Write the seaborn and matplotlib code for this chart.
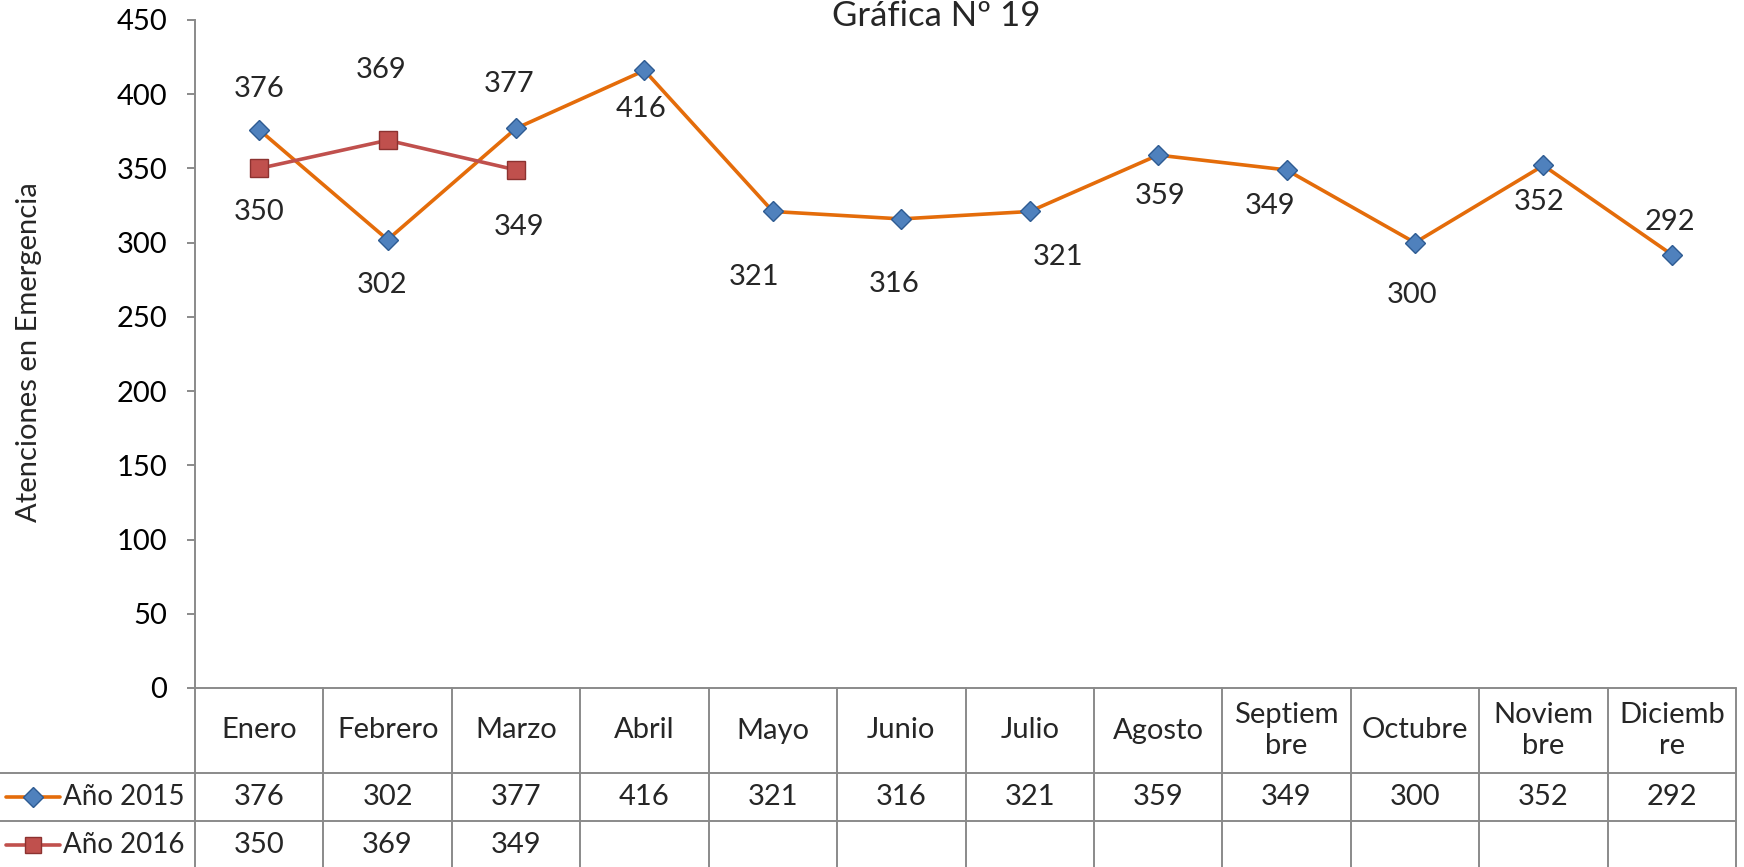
import numpy as np
import pandas as pd
import seaborn as sns
import matplotlib.pyplot as plt
from matplotlib.lines import Line2D
from matplotlib.transforms import blended_transform_factory

# Datos
meses = ["Enero", "Febrero", "Marzo", "Abril", "Mayo", "Junio", "Julio",
         "Agosto", "Septiembre", "Octubre", "Noviembre", "Diciembre"]
etiquetas_tabla = ["Enero", "Febrero", "Marzo", "Abril", "Mayo", "Junio", "Julio",
                   "Agosto", "Septiem\nbre", "Octubre", "Noviem\nbre", "Diciemb\nre"]
anio_2015 = [376, 302, 377, 416, 321, 316, 321, 359, 349, 300, 352, 292]
anio_2016 = [350, 369, 349]
series = ["Año 2015", "Año 2016"]
y_ticks = [0, 50, 100, 150, 200, 250, 300, 350, 400, 450]
titulo = "Gráfica Nº 19"
y_label = "Atenciones en Emergencia"

# posicion manual de las etiquetas (pixeles respecto al punto)
off_2015 = [(0, 41), (-6, -45), (-7, 44), (-3, -39), (-19, -66), (-7, -65),
            (28, -46), (2, -41), (-16, -36), (-3, -52), (-4, -37), (-2, 33)]
off_2016 = [(0, -44), (-6, 70), (3, -57)]

NARANJA = "#E46C0A"
AZUL, AZUL_OSC = "#4F81BD", "#2E5B92"
ROJO, ROJO_OSC = "#C0504D", "#8C3230"
GRIS = "#8a8a8a"
FS = 21

W, H = 1744, 867
sns.set_theme(style="white")
plt.rcParams["font.family"] = ["Lato", "DejaVu Sans"]

fig = plt.figure(figsize=(W / 100, H / 100), dpi=100)
x0, x1, ytop, ybot = 195, 1736, 20, 688
ax = fig.add_axes([x0 / W, 1 - ybot / H, (x1 - x0) / W, (ybot - ytop) / H])

df15 = pd.DataFrame({"mes": np.arange(len(anio_2015)), "valor": anio_2015})
df16 = pd.DataFrame({"mes": np.arange(len(anio_2016)), "valor": anio_2016})

sns.lineplot(data=df15, x="mes", y="valor", ax=ax, color=NARANJA, linewidth=2.6,
             marker="D", markersize=10.5, markerfacecolor=AZUL,
             markeredgecolor=AZUL_OSC, markeredgewidth=1, zorder=3)
sns.lineplot(data=df16, x="mes", y="valor", ax=ax, color=ROJO, linewidth=2.6,
             marker="s", markersize=12.5, markerfacecolor=ROJO,
             markeredgecolor=ROJO_OSC, markeredgewidth=1, zorder=4)

for i, (v, (dx, dy)) in enumerate(zip(anio_2015, off_2015)):
    ax.annotate(str(v), (i, v), xytext=(dx, dy), textcoords="offset pixels",
                ha="center", va="center", fontsize=FS)
for i, (v, (dx, dy)) in enumerate(zip(anio_2016, off_2016)):
    ax.annotate(str(v), (i, v), xytext=(dx, dy), textcoords="offset pixels",
                ha="center", va="center", fontsize=FS)

ax.set_xlim(-0.5, len(meses) - 0.5)
ax.set_ylim(0, 450)
ax.set_yticks(y_ticks)
ax.set_xticks([])
ax.set_xlabel("")
ax.set_ylabel("")
for s in ["top", "right", "bottom"]:
    ax.spines[s].set_visible(False)
ax.spines["left"].set_color(GRIS)
ax.spines["left"].set_linewidth(1.4)
ax.tick_params(axis="y", left=True, direction="out", length=6, width=1.4,
               color=GRIS, pad=14, labelsize=FS, labelcolor="black")

fig.text(936 / W, 1 - 26 / H, titulo, ha="center", va="baseline", fontsize=25)
fig.text(29 / W, 1 - 352 / H, y_label, rotation=90, ha="center", va="center",
         fontsize=FS)

# tabla de datos bajo el grafico
def fy(p):
    return 1 - p / H

tr = blended_transform_factory(ax.transData, fig.transFigure)
filas = [688, 773, 821, 869]
fig.add_artist(Line2D([x0 / W, x1 / W], [fy(filas[0])] * 2, transform=fig.transFigure,
                      color=GRIS, lw=1.4))
for yy in filas[1:3]:
    fig.add_artist(Line2D([0, x1 / W], [fy(yy)] * 2, transform=fig.transFigure,
                          color=GRIS, lw=1.4))
for b in np.arange(len(meses) + 1) - 0.5:
    fig.add_artist(Line2D([b, b], [fy(filas[0]), fy(filas[3])], transform=tr,
                          color=GRIS, lw=1.4))

yc = [(filas[k] + filas[k + 1]) / 2 for k in range(3)]
for i, lab in enumerate(etiquetas_tabla):
    fig.text(i, fy(yc[0]), lab, transform=tr, ha="center", va="center",
             fontsize=FS, linespacing=1.25)
for i, v in enumerate(anio_2015):
    fig.text(i, fy(yc[1]), str(v), transform=tr, ha="center", va="center", fontsize=FS)
for i, v in enumerate(anio_2016):
    fig.text(i, fy(yc[2]), str(v), transform=tr, ha="center", va="center", fontsize=FS)

# claves de leyenda en la tabla
estilos = [(NARANJA, "D", 10, AZUL, AZUL_OSC), (ROJO, "s", 12, ROJO, ROJO_OSC)]
for nombre, y, (lc, mk, ms, fc, ec) in zip(series, yc[1:], estilos):
    fig.add_artist(Line2D([6 / W, 60 / W], [fy(y)] * 2, transform=fig.transFigure,
                          color=lc, lw=2.6))
    fig.add_artist(Line2D([33 / W], [fy(y)], transform=fig.transFigure, marker=mk,
                          markersize=ms, markerfacecolor=fc, markeredgecolor=ec,
                          markeredgewidth=1, linestyle="none"))
    fig.text(63 / W, fy(y), nombre, ha="left", va="center", fontsize=20)

fig.savefig("out.png", dpi=100)
